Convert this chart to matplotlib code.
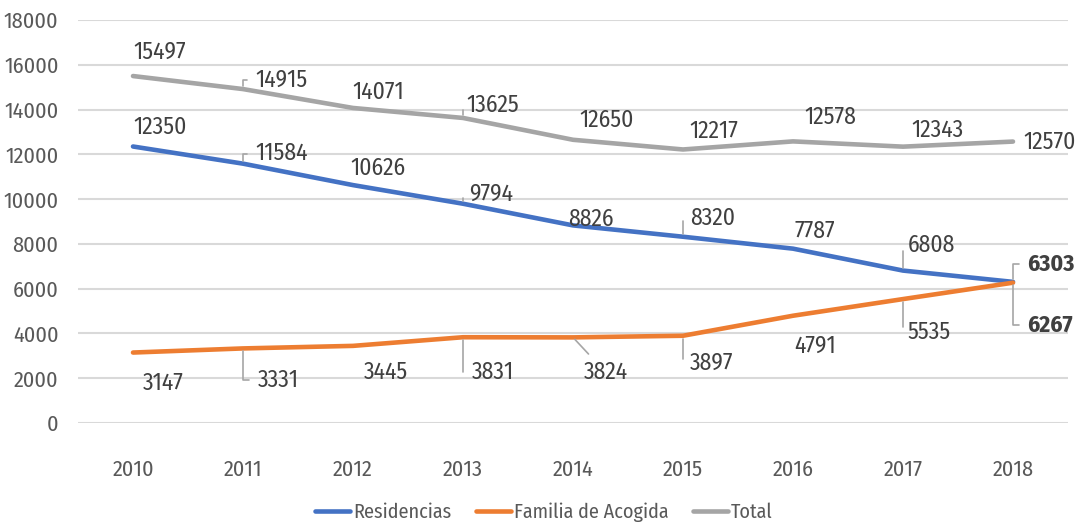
import matplotlib
matplotlib.use('Agg')
from matplotlib import pyplot as plt

plt.rcParams['font.family'] = ['Fira Sans Condensed', 'DejaVu Sans']
plt.rcParams['font.weight'] = 'normal'

years = ['2010', '2011', '2012', '2013', '2014', '2015', '2016', '2017', '2018']
residencias = [12350, 11584, 10626, 9794, 8826, 8320, 7787, 6808, 6303]
familia = [3147, 3331, 3445, 3831, 3824, 3897, 4791, 5535, 6267]
total = [15497, 14915, 14071, 13625, 12650, 12217, 12578, 12343, 12570]

# label placement (pixel offsets of label centre from the point, leader line: 0 none, 1 elbow, 2 straight)
off_total = [(27, 24, 0), (40, 9, 1), (25, 16, 0), (31, 13, 1), (34, 20, 0),
             (31, 18, 0), (37, 24, 0), (34, 16, 0), (37, -1, 0)]
off_res = [(27, 19, 0), (40, 10, 1), (25, 17, 0), (29, 10, 1), (18, 6, 0),
           (30, 18, 1), (22, 17, 0), (27, 25, 1), (37, 18, 1)]
off_fam = [(30, -31, 0), (37, -32, 1), (33, -26, 0), (31, -35, 1), (33, -35, 2),
           (29, -27, 1), (22, -30, 0), (27, -33, 1), (37, -42, 1)]

fig = plt.figure(figsize=(10.81, 5.24), dpi=100)
ax = fig.add_axes([78 / 1081, 101 / 524, 990 / 1081, 403 / 524])

x = list(range(len(years)))
ax.plot(x, residencias, color='#4472C4', lw=3.3, solid_capstyle='round', solid_joinstyle='round', label='Residencias')
ax.plot(x, familia, color='#ED7D31', lw=3.3, solid_capstyle='round', solid_joinstyle='round', label='Familia de Acogida')
ax.plot(x, total, color='#A5A5A5', lw=3.3, solid_capstyle='round', solid_joinstyle='round', label='Total')


def put_labels(vals, offs, bold_last=False):
    for i, (v, (dx, dy, lead)) in enumerate(zip(vals, offs)):
        txt = str(v)
        w = 'bold' if (bold_last and i == len(vals) - 1) else 'normal'
        if lead == 0:
            ax.annotate(txt, (i, v), xytext=(dx, dy), textcoords='offset pixels',
                        ha='center', va='center', fontsize=17, color='#404040', fontweight=w)
        else:
            half = 5.1 * len(txt) + 2
            style = 'angle,angleA=0,angleB=90,rad=0' if lead == 1 else 'arc3'
            ax.annotate(txt, (i, v), xytext=(dx - half, dy), textcoords='offset pixels',
                        ha='left', va='center', fontsize=17, color='#404040', fontweight=w,
                        arrowprops=dict(arrowstyle='-', color='#A6A6A6', lw=1.2,
                                        connectionstyle=style, shrinkA=4, shrinkB=2))


put_labels(total, off_total)
put_labels(residencias, off_res, bold_last=True)
put_labels(familia, off_fam, bold_last=True)

ax.set_xlim(-0.5, len(years) - 0.5)
ax.set_ylim(0, 18000)
ax.set_yticks(range(0, 18001, 2000))
ax.set_xticks(x)
ax.set_xticklabels(years)
ax.grid(axis='y', color='#D9D9D9', lw=1.5)
ax.set_axisbelow(True)
for s in ax.spines.values():
    s.set_visible(False)
ax.tick_params(length=0, labelsize=16, colors='#595959')
ax.tick_params(axis='x', pad=26)
ax.tick_params(axis='y', pad=14)

fig.legend(loc='center', bbox_to_anchor=(0.503, 0.023), ncol=3, frameon=False,
           fontsize=14.5, labelcolor='#595959', handlelength=1.75, handletextpad=0.15,
           columnspacing=1.2)

fig.savefig('out.png', dpi=100)
